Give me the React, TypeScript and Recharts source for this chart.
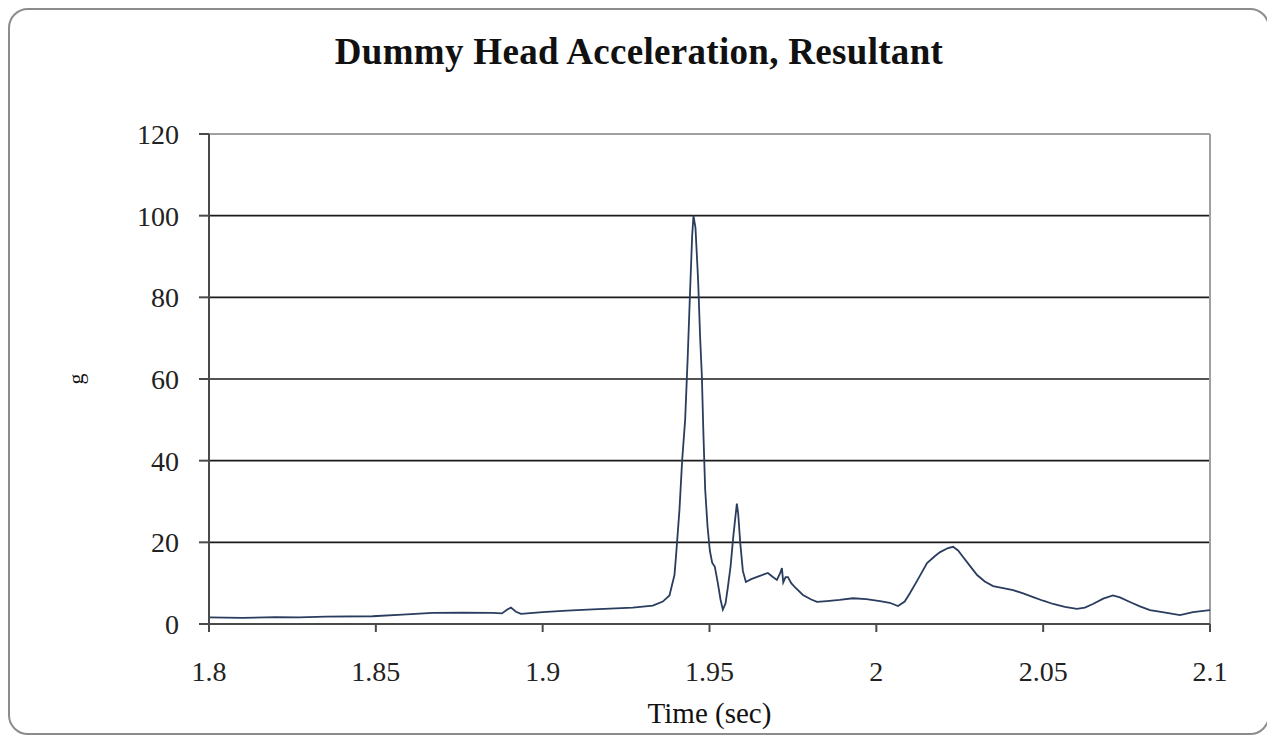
import React from 'react';
import { LineChart, Line, XAxis, YAxis, CartesianGrid, ReferenceLine } from 'recharts';

const titleText = 'Dummy Head Acceleration, Resultant';
const xAxisTitle = 'Time (sec)';
const yAxisTitle = 'g';

const xTicks = [1.8, 1.85, 1.9, 1.95, 2, 2.05, 2.1];
const yTicks = [0, 20, 40, 60, 80, 100, 120];

const timeSec = [
  1.8, 1.81, 1.82, 1.827, 1.835, 1.849, 1.858, 1.867, 1.876, 1.885,
  1.8878, 1.8895, 1.8905, 1.892, 1.8935, 1.9, 1.9073, 1.915, 1.927, 1.933,
  1.936, 1.938, 1.9395, 1.94, 1.941, 1.9418, 1.9427, 1.9435, 1.9442, 1.9448,
  1.9452, 1.9458, 1.9466, 1.9472, 1.9477, 1.9482, 1.9487, 1.9494, 1.9501, 1.9508,
  1.9516, 1.9525, 1.9533, 1.954, 1.9548, 1.9555, 1.9563, 1.9572, 1.9582, 1.9586,
  1.9592, 1.96, 1.9609, 1.9625, 1.9651, 1.9675, 1.969, 1.9702, 1.9712, 1.9717,
  1.9721, 1.9728, 1.9735, 1.9745, 1.9756, 1.978, 1.9805, 1.9822, 1.9852, 1.989,
  1.993, 1.997, 2.0011, 2.004, 2.0065, 2.0085, 2.0101, 2.0125, 2.0152, 2.0175,
  2.0191, 2.0215, 2.023, 2.0245, 2.026, 2.028, 2.0302, 2.0325, 2.035, 2.038,
  2.041, 2.044, 2.047, 2.05, 2.053, 2.0565, 2.0601, 2.0625, 2.0649, 2.068,
  2.0709, 2.073, 2.076, 2.079, 2.082, 2.0871, 2.091, 2.0949, 2.1,
];

const accelG = [
  1.6, 1.5, 1.7, 1.6, 1.8, 1.9, 2.3, 2.7, 2.8, 2.7,
  2.6, 3.6, 4.0, 3.0, 2.5, 2.9, 3.3, 3.6, 4.0, 4.5,
  5.5, 7.0, 12, 17, 28, 40, 50, 66, 82, 95,
  100, 97, 84, 70, 61, 46, 33, 24, 18, 15,
  14, 10, 6, 3.5, 5, 9, 14, 22, 29.5, 27,
  20, 13, 10.3, 11, 11.8, 12.5, 11.5, 10.8, 12.5, 13.7,
  10.2, 11.5, 11.5, 10, 9, 7.1, 6, 5.4, 5.6, 5.9,
  6.3, 6.1, 5.6, 5.2, 4.4, 5.5, 7.6, 11, 14.9, 16.6,
  17.6, 18.6, 18.9, 18.0, 16.4, 14.3, 12, 10.4, 9.3, 8.8,
  8.3, 7.5, 6.6, 5.7, 4.9, 4.2, 3.7, 4.0, 4.9, 6.2,
  7.0, 6.5, 5.4, 4.3, 3.4, 2.7, 2.2, 2.9, 3.4,
];

const data = timeSec.map((t, i) => ({ t, g: accelG[i] }));

const serif = '"Liberation Serif", "DejaVu Serif", serif';

export default function App() {
  return (
    <div style={{ position: 'relative', width: 1262, height: 727, background: '#fff' }}>
      <div
        style={{
          position: 'absolute',
          left: 0,
          top: 0,
          width: 1262,
          height: 727,
          boxSizing: 'border-box',
          border: '2px solid #8c8c8c',
          borderRadius: 20,
          pointerEvents: 'none',
        }}
      />
      <div
        style={{
          position: 'absolute',
          left: 0,
          top: 25,
          width: 1262,
          textAlign: 'center',
          fontFamily: serif,
          fontWeight: 'bold',
          fontSize: 37,
          lineHeight: '37px',
          color: '#111',
          letterSpacing: 0.3,
        }}
      >
        {titleText}
      </div>
      <LineChart
        width={1262}
        height={727}
        data={data}
        margin={{ top: 126, right: 60, left: 60, bottom: 11 }}
      >
        <CartesianGrid horizontal={true} vertical={false} stroke="#1a1a1a" strokeWidth={1.6} />
        <ReferenceLine y={120} stroke="#a0a0a0" strokeWidth={2} />
        <ReferenceLine x={2.1} stroke="#a0a0a0" strokeWidth={2} />
        <XAxis
          dataKey="t"
          type="number"
          domain={[1.8, 2.1]}
          ticks={xTicks}
          allowDataOverflow
          height={100}
          tickSize={8}
          tickMargin={29}
          stroke="#4a4a4a"
          strokeWidth={2}
          tick={{ fill: '#222', fontSize: 28, fontFamily: serif }}
          tickFormatter={(v: number) => String(v)}
          label={{
            value: xAxisTitle,
            position: 'insideBottom',
            offset: 1,
            style: { fill: '#111', fontSize: 29, fontFamily: serif },
          }}
        />
        <YAxis
          type="number"
          domain={[0, 120]}
          ticks={yTicks}
          width={141}
          tickSize={10}
          tickMargin={20}
          stroke="#4a4a4a"
          strokeWidth={2}
          tick={{ fill: '#222', fontSize: 28, fontFamily: serif }}
          label={{
            value: yAxisTitle,
            angle: -90,
            position: 'insideLeft',
            offset: 7,
            style: { fill: '#111', fontSize: 22, fontFamily: serif, textAnchor: 'middle' },
          }}
        />
        <Line
          type="linear"
          dataKey="g"
          stroke="#2a3d5e"
          strokeWidth={1.8}
          dot={false}
          isAnimationActive={false}
        />
      </LineChart>
    </div>
  );
}
